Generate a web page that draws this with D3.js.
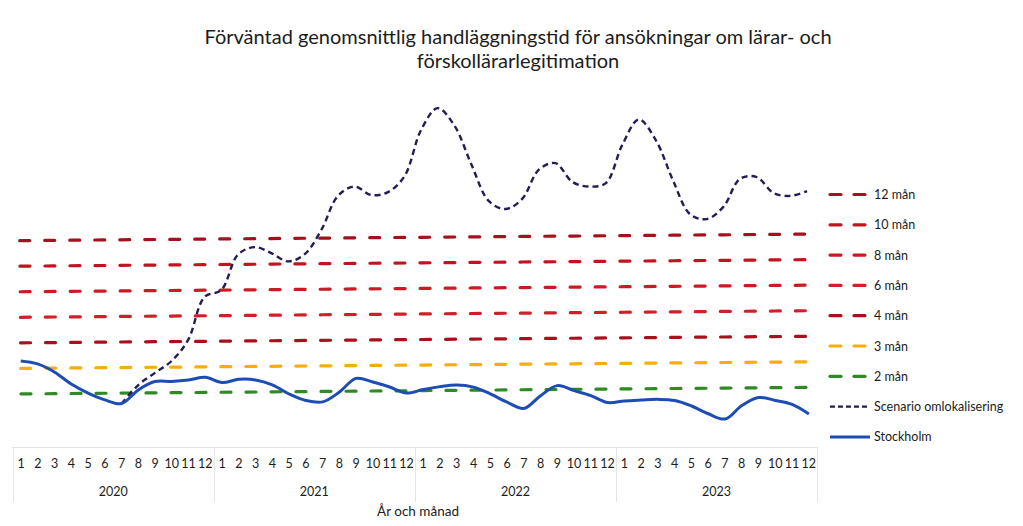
<!DOCTYPE html>
<html><head><meta charset="utf-8">
<script src="https://cdn.jsdelivr.net/npm/d3@7"></script>
<style>
body{margin:0;background:#fff}
svg{display:block}
text{font-family:Lato,"Noto Sans",sans-serif;fill:#1c1c1c}
</style>
</head><body><svg id="c" width="1023" height="526"></svg>
<script>
// ---- data ----
const years = ["2020","2021","2022","2023"];
const months = ["1","2","3","4","5","6","7","8","9","10","11","12"];
const stockholm = [32.9,31.7,28.5,23.7,20.1,17.4,15.9,21.2,24.4,24.4,24.9,25.9,
  23.8,25.0,24.7,22.7,19.1,16.5,15.9,19.7,25.0,23.5,21.5,19.1,
  20.4,21.5,22.1,21.2,18.5,15.2,12.7,17.6,21.5,19.5,17.5,14.7,
  15.3,15.6,15.8,15.3,13.1,10.0,7.9,13.1,16.2,15.0,13.4,9.6];
const scenario = [null,null,null,null,null,null,15.9,23.1,27.8,32.4,40.6,57.4,
  60.0,73.7,76.7,74.3,71.0,73.8,83.2,96.4,100.1,96.7,97.8,104.1,
  122.0,130.5,123.5,108.1,94.0,90.8,94.7,106.0,108.6,101.2,99.3,100.6,
  115.5,125.4,117.3,101.6,88.2,86.2,90.9,101.8,102.5,96.2,95.0,96.8];
const thresholdLabels = ["12 mån","10 mån","8 mån","6 mån","4 mån","3 mån","2 mån"];
const thresholdValues = [80,70,60,50,40,30,20];
const thresholdColors = ["#a3121c","#c4121f","#cc1a24","#cf1f28","#a8101c","#f7ad0f","#2e8a22"];
const title = ["Förväntad genomsnittlig handläggningstid för ansökningar om lärar- och","förskollärarlegitimation"];
const xTitle = "År och månad";
const scenarioName = "Scenario omlokalisering";
const stockholmName = "Stockholm";

// ---- chart ----
const svg = d3.select("#c");
const keys = [];
years.forEach(y => months.forEach(m => keys.push(y + "-" + m)));
const x = d3.scalePoint().domain(keys).range([21, 808.7]);
const y = d3.scaleLinear().domain([0, 140]).range([445.05, 87.35]);

// title
svg.append("text").attr("x", 518).attr("y", 44).attr("text-anchor","middle")
  .style("font-size","20px").text(title[0]);
svg.append("text").attr("x", 518).attr("y", 68).attr("text-anchor","middle")
  .style("font-size","20px").text(title[1]);

// faint category-table grid
const grid = svg.append("g").attr("stroke","#e4e4e4").attr("stroke-width",1);
grid.append("line").attr("x1",12).attr("x2",817).attr("y1",447.5).attr("y2",447.5);
const step = x.step();
[0,1,2,3,4].forEach(k => {
  const xx = Math.round(x(keys[0]) - step/2 + k*12*step) + 0.5;
  grid.append("line").attr("x1",xx).attr("x2",xx).attr("y1",447).attr("y2",502);
});

// plot group (slightly tilted like the scanned original)
const plot = svg.append("g").attr("transform","rotate(-0.477,19,394)");

thresholdValues.forEach((v,k) => {
  plot.append("path")
    .datum(keys.map(kk => v))
    .attr("d", d3.line().x((d,i)=>x(keys[i])).y(d=>y(d)))
    .attr("fill","none").attr("stroke",thresholdColors[k]).attr("stroke-width",3.2)
    .attr("stroke-linecap","round").attr("stroke-dasharray","10,15");
});

const line = d3.line().defined(d=>d!=null).x((d,i)=>x(keys[i])).y(d=>y(d))
  .curve(d3.curveCatmullRom.alpha(0.5));

plot.append("path").datum(scenario).attr("d", line)
  .attr("fill","none").attr("stroke","#231c55").attr("stroke-width",2.4)
  .attr("stroke-dasharray","6,4");
plot.append("path").datum(stockholm).attr("d", line)
  .attr("fill","none").attr("stroke","#1d4db2").attr("stroke-width",3);

// x axis labels
const xa = svg.append("g");
keys.forEach((k,i) => {
  xa.append("text").attr("x", x(k)).attr("y", 468).attr("text-anchor","middle")
    .style("font-size","12.5px").text(months[i % 12]);
});
years.forEach((yr,j) => {
  const cx = (x(yr+"-1") + x(yr+"-12"))/2;
  xa.append("text").attr("x", cx).attr("y", 496).attr("text-anchor","middle")
    .style("font-size","12.5px").text(yr);
});
svg.append("text").attr("x", 418).attr("y", 516).attr("text-anchor","middle")
  .style("font-size","13.5px").text(xTitle);

// legend
const lg = svg.append("g");
const ly0 = 194.5, ldy = 30.3;
thresholdLabels.forEach((lab,k) => {
  const yy = ly0 + k*ldy;
  [[830,841],[854,865]].forEach(([a,b]) => {
    lg.append("line").attr("x1",a).attr("x2",b).attr("y1",yy).attr("y2",yy)
      .attr("stroke",thresholdColors[k]).attr("stroke-width",3.2).attr("stroke-linecap","round");
  });
  lg.append("text").attr("x",874).attr("y",yy+4.5).style("font-size","12.5px").text(lab);
});
const ys = ly0 + 7*ldy, ys2 = ly0 + 8*ldy;
lg.append("line").attr("x1",830).attr("x2",870).attr("y1",ys).attr("y2",ys)
  .attr("stroke","#231c55").attr("stroke-width",2.4).attr("stroke-dasharray","5,3");
lg.append("text").attr("x",874).attr("y",ys+4.5).style("font-size","12.5px").text(scenarioName);
lg.append("line").attr("x1",830).attr("x2",870).attr("y1",ys2).attr("y2",ys2)
  .attr("stroke","#1d4db2").attr("stroke-width",3);
lg.append("text").attr("x",874).attr("y",ys2+4.5).style("font-size","12.5px").text(stockholmName);
</script>
</body></html>
